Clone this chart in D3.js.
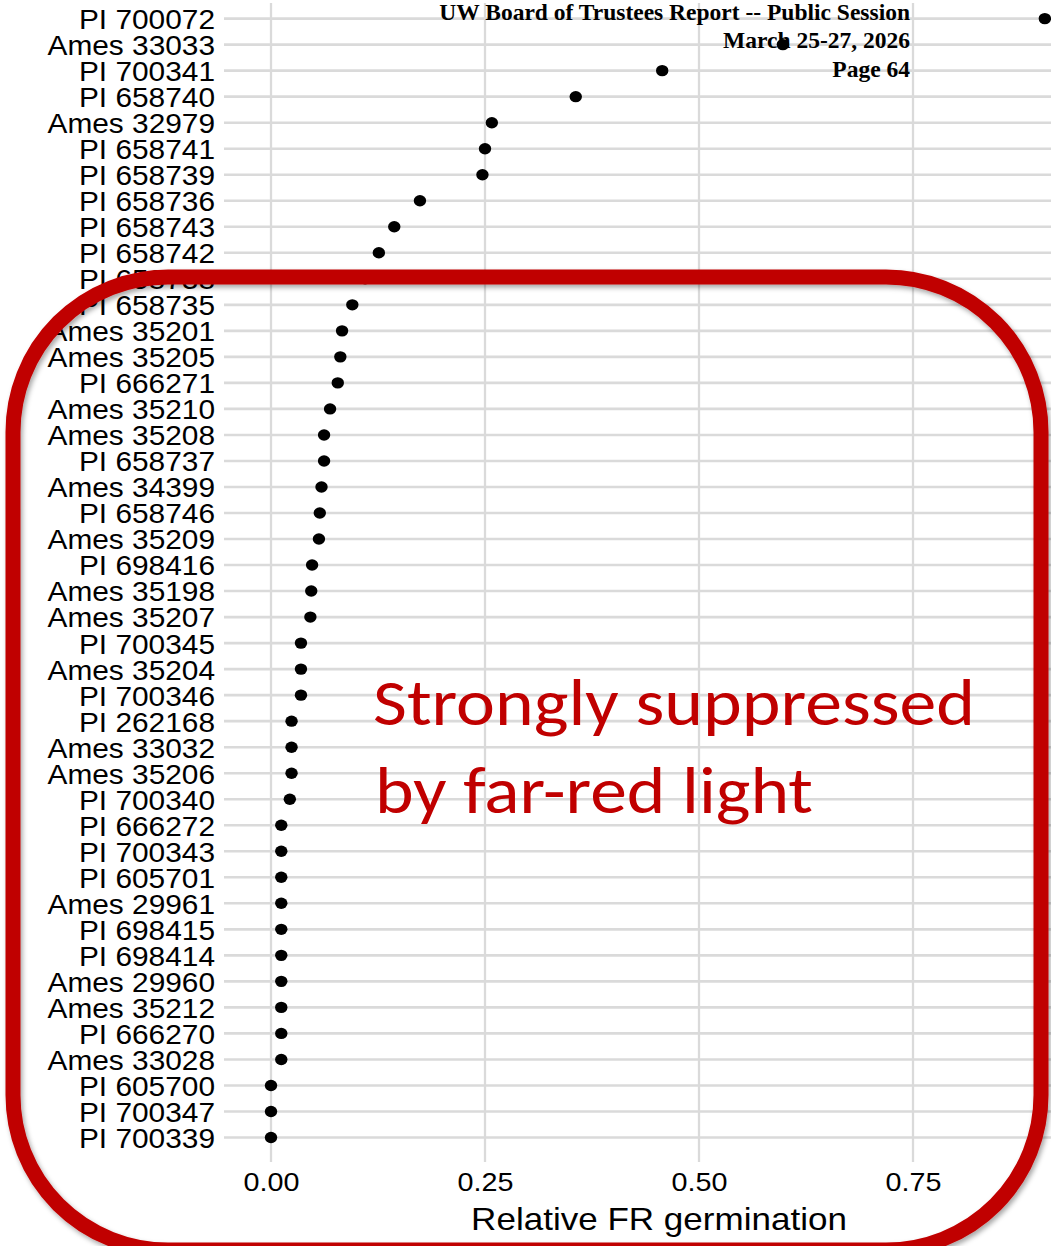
<!DOCTYPE html>
<html>
<head>
<meta charset="utf-8">
<script src="https://cdn.jsdelivr.net/npm/d3@7"></script>
<style>
  body { margin: 0; background: #fff; }
  svg { display: block; }
</style>
</head>
<body>
<div id="chart"></div>
<script>
const width = 1051
const height = 1246

// accessions, top to bottom
const accessions = [
  "PI 700072", "Ames 33033", "PI 700341", "PI 658740", "Ames 32979", "PI 658741",
  "PI 658739", "PI 658736", "PI 658743", "PI 658742", "PI 658738", "PI 658735",
  "Ames 35201", "Ames 35205", "PI 666271", "Ames 35210", "Ames 35208", "PI 658737",
  "Ames 34399", "PI 658746", "Ames 35209", "PI 698416", "Ames 35198", "Ames 35207",
  "PI 700345", "Ames 35204", "PI 700346", "PI 262168", "Ames 33032", "Ames 35206",
  "PI 700340", "PI 666272", "PI 700343", "PI 605701", "Ames 29961", "PI 698415",
  "PI 698414", "Ames 29960", "Ames 35212", "PI 666270", "Ames 33028", "PI 605700",
  "PI 700347", "PI 700339"
]
const relFR = [
  0.904, 0.598, 0.457, 0.356, 0.258, 0.250,
  0.247, 0.174, 0.144, 0.126, 0.110, 0.095,
  0.083, 0.081, 0.078, 0.069, 0.062, 0.062,
  0.059, 0.057, 0.056, 0.048, 0.047, 0.046,
  0.035, 0.035, 0.035, 0.024, 0.024, 0.024,
  0.022, 0.012, 0.012, 0.012, 0.012, 0.012,
  0.012, 0.012, 0.012, 0.012, 0.012, 0,
  0, 0
]
const xTicks = [0, 0.25, 0.5, 0.75]
const xTitle = "Relative FR germination"
const headerLines = ["UW Board of Trustees Report -- Public Session", "March 25-27, 2026", "Page 64"]
const noteLines = ["Strongly suppressed", "by far-red light"]

const data = accessions.map((a, i) => ({ name: a, value: relFR[i] }))

// the chart image was stretched a bit sideways
const stretch = 1.085
const panel = { left: 224, top: 3, bottom: 1162 }

const svg = d3.select("#chart").append("svg").attr("width", width).attr("height", height)

const x = d3.scaleLinear().domain([0, 1]).range([271, 1127])
const y = d3.scalePoint().domain(accessions).range([18.6, 1137.5])

const grid = svg.append("g")
grid.selectAll("line.h").data(accessions).join("line")
    .attr("class", "h")
    .attr("x1", panel.left).attr("x2", width)
    .attr("y1", d => y(d)).attr("y2", d => y(d))
    .attr("stroke", "#dadada").attr("stroke-width", 2.6)
grid.selectAll("line.v").data(xTicks).join("line")
    .attr("class", "v")
    .attr("x1", d => x(d)).attr("x2", d => x(d))
    .attr("y1", panel.top).attr("y2", panel.bottom)
    .attr("stroke", "#dadada").attr("stroke-width", 2.3)

const font = "'Liberation Sans', Arial, Helvetica, sans-serif"

// y axis labels
const yAxis = svg.append("g")
    .attr("transform", "translate(215,0)")
    .call(d3.axisLeft(y).tickSize(0).tickPadding(0))
yAxis.select(".domain").remove()
yAxis.selectAll("text")
    .attr("font-family", font).attr("font-size", 27.5).attr("fill", "#000")
    .attr("dy", "0.36em")
    .attr("transform", `scale(${stretch},1)`)

// x axis
const xAxis = svg.append("g")
    .attr("transform", `translate(0,${panel.bottom})`)
    .call(d3.axisBottom(x).tickValues(xTicks).tickFormat(d3.format(".2f")).tickSize(0).tickPadding(10))
xAxis.select(".domain").remove()
xAxis.selectAll("text")
    .attr("font-family", font).attr("font-size", 26.5).attr("fill", "#000")
    .attr("transform", `scale(${stretch},1)`)

svg.append("text")
    .attr("transform", `translate(659,1230) scale(1.095,1)`)
    .attr("text-anchor", "middle")
    .attr("font-family", font).attr("font-size", 32)
    .text(xTitle)

// dots
svg.append("g").selectAll("ellipse").data(data).join("ellipse")
    .attr("cx", d => x(d.value))
    .attr("cy", d => y(d.name))
    .attr("rx", 6.2).attr("ry", 5.7)
    .attr("fill", "#000")

// header
svg.append("g").selectAll("text").data(headerLines).join("text")
    .attr("x", 910)
    .attr("y", (d, i) => 20 + i * 28.4)
    .attr("text-anchor", "end")
    .attr("font-family", "'Liberation Serif', 'Times New Roman', serif")
    .attr("font-weight", "bold")
    .attr("font-size", 23.5)
    .text(d => d)

// red callout
const defs = svg.append("defs")
defs.append("filter").attr("id", "shadow")
    .attr("x", "-10%").attr("y", "-10%").attr("width", "120%").attr("height", "120%")
  .append("feDropShadow")
    .attr("dx", 2).attr("dy", 3).attr("stdDeviation", 2.5)
    .attr("flood-color", "#000").attr("flood-opacity", 0.35)

svg.append("rect")
    .attr("x", 13).attr("y", 277)
    .attr("width", 1028).attr("height", 973)
    .attr("rx", 155).attr("ry", 155)
    .attr("fill", "none")
    .attr("stroke", "#c00000").attr("stroke-width", 15)
    .attr("filter", "url(#shadow)")

const noteLen = [602, 438]
svg.append("g").selectAll("text").data(noteLines).join("text")
    .attr("x", (d, i) => i === 0 ? 373 : 375)
    .attr("y", (d, i) => 725 + i * 88)
    .attr("font-family", "Carlito, Calibri, Lato, sans-serif")
    .attr("font-size", 66)
    .attr("fill", "#c00000")
    .attr("textLength", (d, i) => noteLen[i])
    .attr("lengthAdjust", "spacingAndGlyphs")
    .text(d => d)
</script>
</body>
</html>
